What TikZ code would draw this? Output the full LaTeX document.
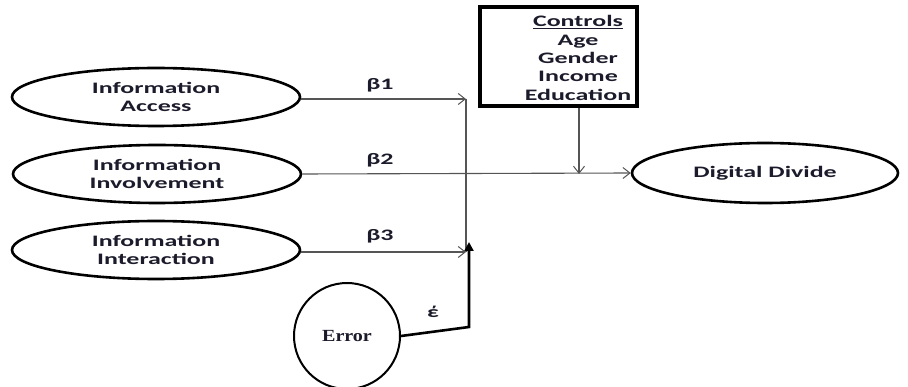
\documentclass[tikz,border=0pt]{standalone}
\usepackage{fontspec}
\usetikzlibrary{arrows.meta,shapes.geometric,fit}
\newfontfamily\widesans[FakeStretch=1.62]{Carlito}
\newfontfamily\wideserif[FakeStretch=1.18]{Liberation Serif}
\definecolor{linegray}{HTML}{555555}
\definecolor{inkblue}{HTML}{1B1B2B}
\tikzset{
  x=1pt, y=-1pt,
  construct/.style={ellipse, draw=black, line width=2.6pt, minimum width=288pt,
    minimum height=58pt, inner sep=0pt, align=center,
    font=\widesans\bfseries\fontsize{16}{17.5}\selectfont, text=inkblue},
  path/.style={draw=linegray, line width=1.1pt},
  openhead/.style={-{Straight Barb[length=7pt,width=11pt,line width=1pt]}},
  coef/.style={font=\widesans\bfseries\fontsize{16}{17}\selectfont, text=inkblue},
}
\begin{document}
\begin{tikzpicture}
\useasboundingbox (0,0) rectangle (908,387);

% latent constructs
\node[construct] (acc) at (156,97) {Information\\Access};
\node[construct] (inv) at (157,174) {Information\\Involvement};
\node[construct] (int) at (156,250) {Information\\Interaction};
\node[construct, minimum width=266pt, minimum height=60pt] (dd) at (765,173) {Digital Divide};

% control variables: list set to the right of the frame's centre
\node[align=center, inner sep=0pt,
      font=\widesans\bfseries\fontsize{16}{18.3}\selectfont,
      text=inkblue] (ctrltext) at (578,58)
      {\underline{Controls}\\Age\\Gender\\Income\\Education};
\coordinate (ctrlnw) at (480,7);
\coordinate (ctrlse) at (637,106);
\node[draw=black, line width=4pt, inner sep=0pt, fit=(ctrlnw)(ctrlse)] (ctrl) {};

% error term
\node[circle, draw=black, line width=2pt, minimum size=106pt, inner sep=0pt,
      font=\wideserif\bfseries\fontsize{17}{19}\selectfont, text=inkblue]
      (err) at (347,336) {Error};

% junction points on the collector line
\coordinate (j1) at (466,99);
\coordinate (j3) at (466,252);
\coordinate (je) at (469,242);
\coordinate (jc) at (579,174);

% paths
\draw[path, openhead] (acc.east |- j1) -- (j1);
\draw[path] (j1) -- (j3);
\draw[path, openhead] (int.east |- j3) -- (j3);
\draw[path, openhead] (inv.east) -- (dd.west);
\draw[path, openhead] (ctrl.south -| jc) -- (jc);
\draw[black, line width=2.6pt, -{Triangle[length=9pt,width=9pt]}]
  (err.east) -- (469,327) -- (je);

% coefficients
\node[coef] (b1) at (380,85) {β1};
\node[coef] (b2) at (380,160) {β2};
\node[coef] (b3) at (380,236) {β3};
\node[coef] (eps) at (433,312) {έ};
\end{tikzpicture}
\end{document}
